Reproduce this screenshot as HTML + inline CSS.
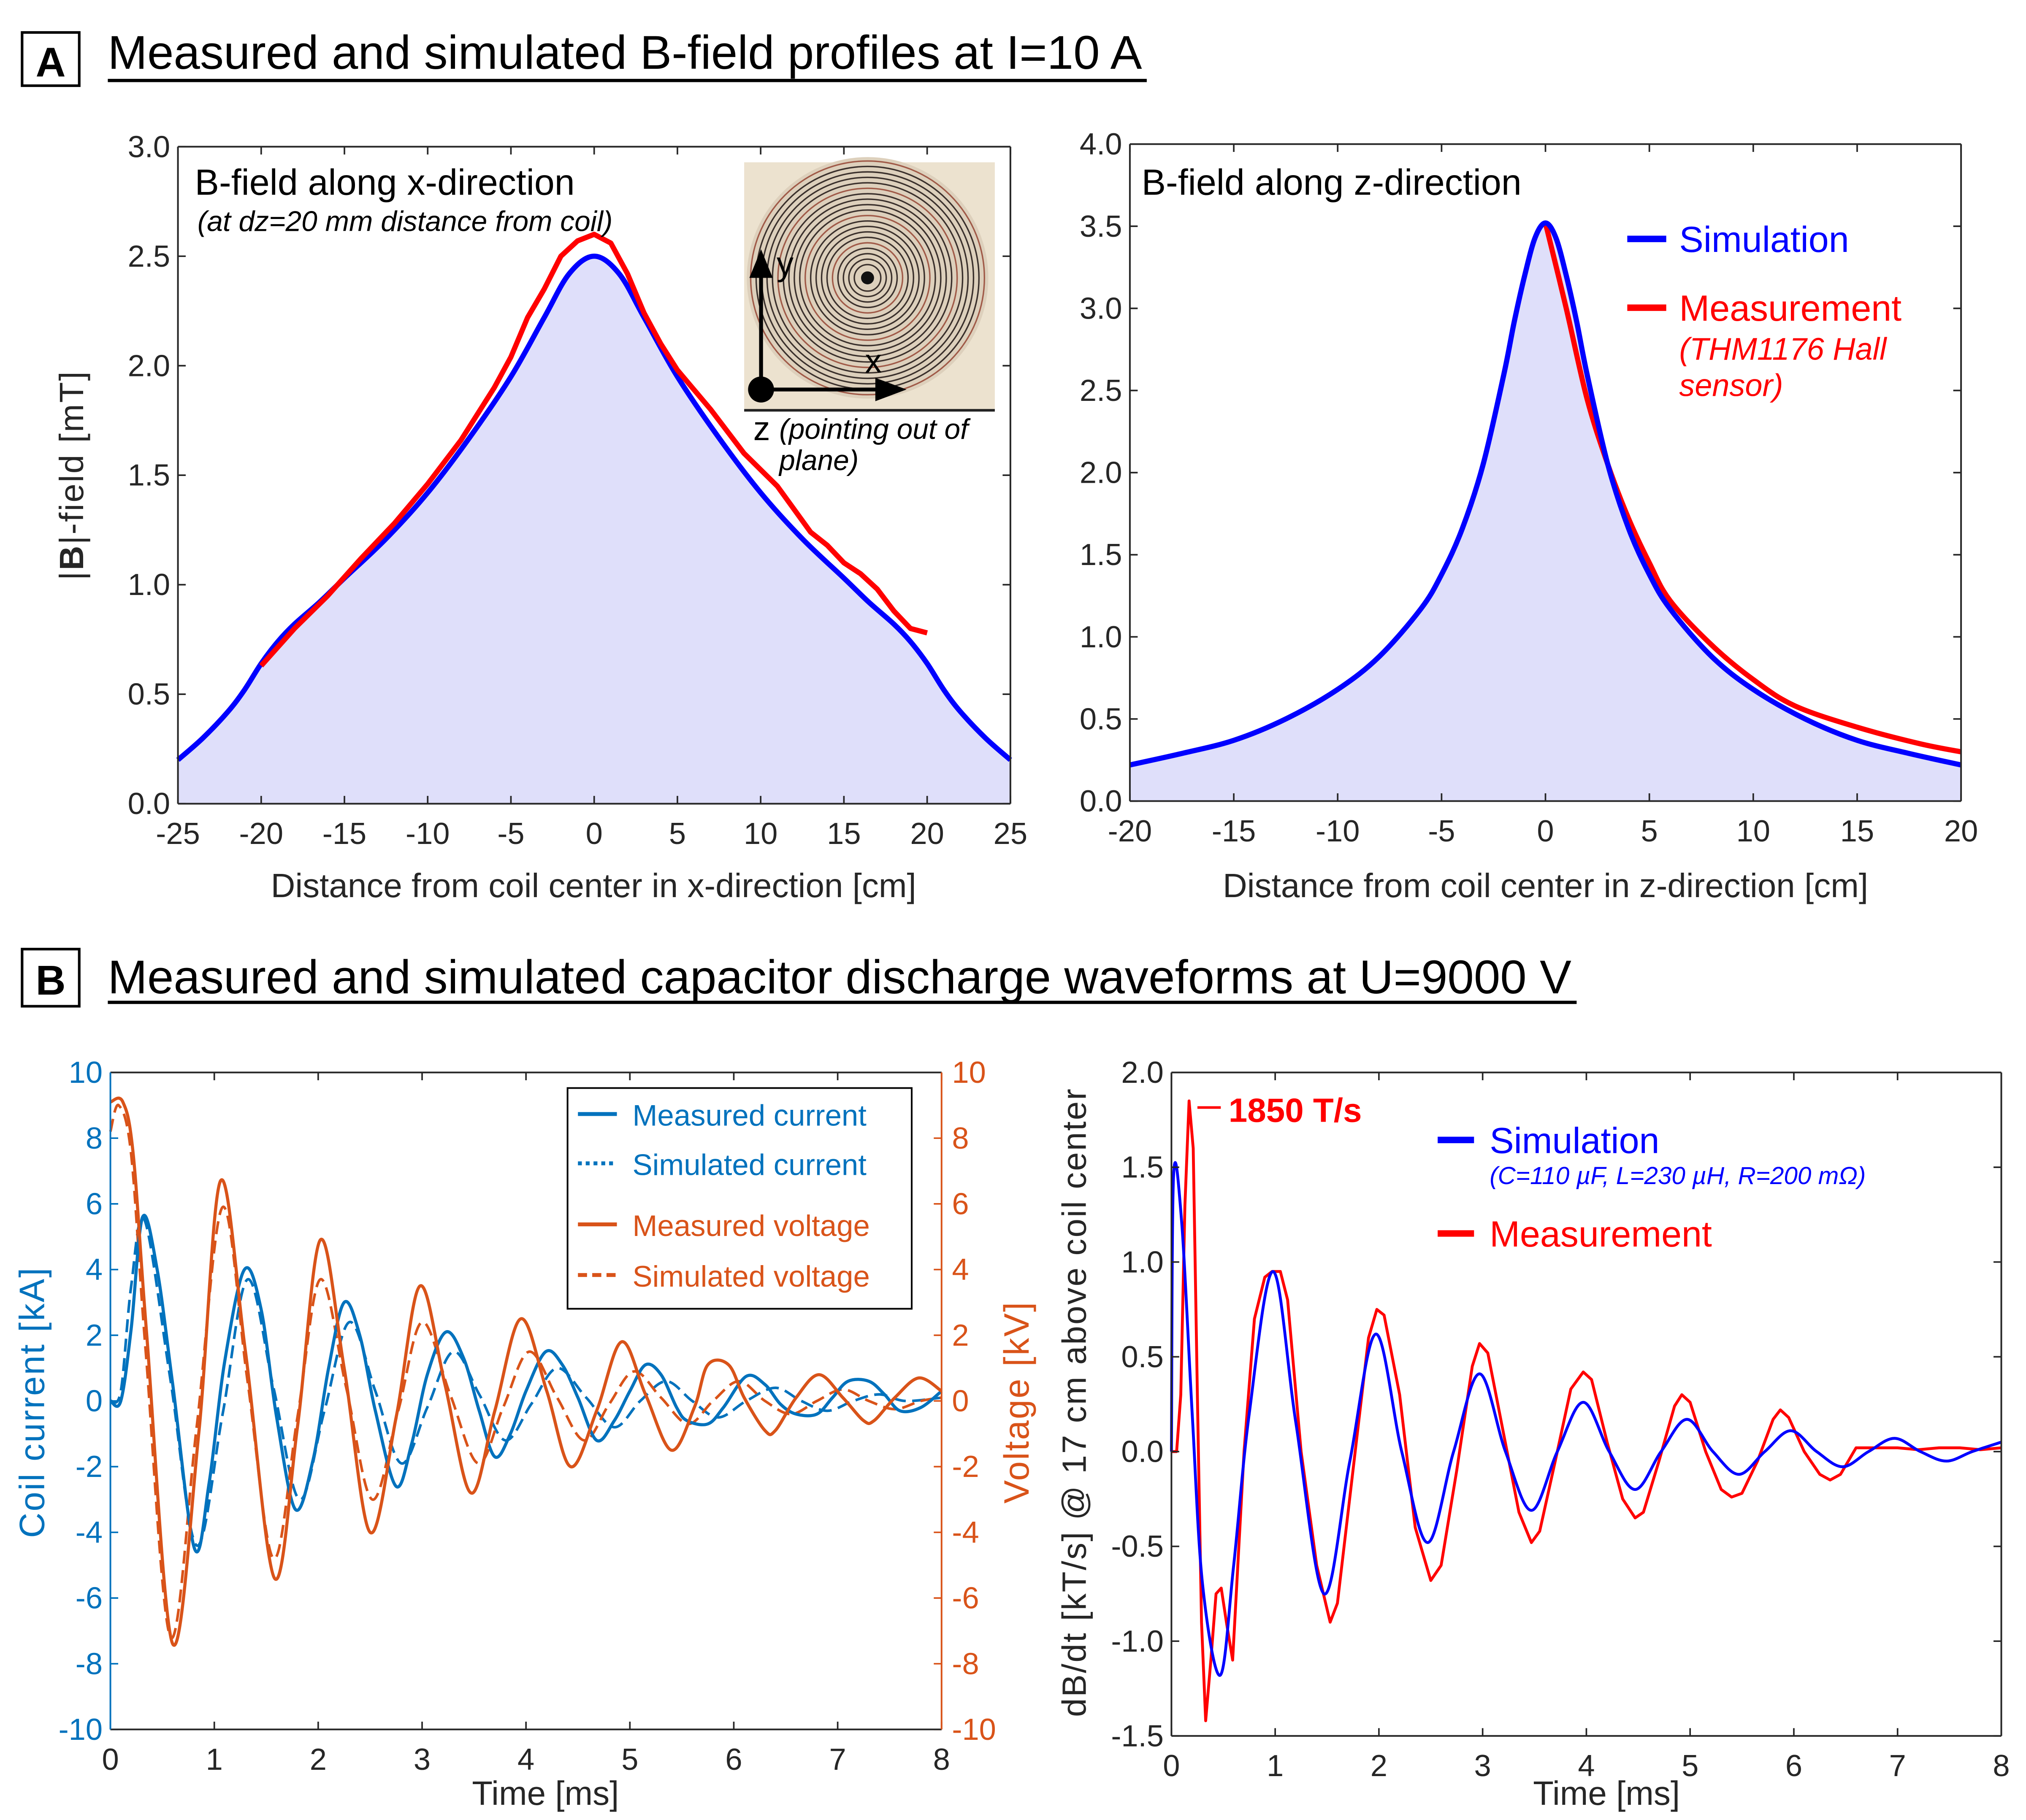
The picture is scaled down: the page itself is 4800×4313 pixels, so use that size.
<!DOCTYPE html>
<html><head><meta charset="utf-8">
<style>
html,body{margin:0;padding:0;background:#fff;}
svg{display:block;font-family:"Liberation Sans",Arial,sans-serif;}
</style></head>
<body>
<svg id="fig" xmlns="http://www.w3.org/2000/svg" width="4800" height="4313" viewBox="0 0 1560 1401.75">
<rect x="0" y="0" width="1560" height="1402" fill="#fff"/>
<g>
<rect x="17" y="25" width="44" height="41" fill="none" stroke="#000" stroke-width="2"/>
<text x="39" y="59" font-size="32" font-weight="bold" text-anchor="middle">A</text>
<text x="83" y="53" font-size="36.5">Measured and simulated B-field profiles at I=10 A</text>
<line x1="83" y1="62" x2="883" y2="62" stroke="#000" stroke-width="2.5"/>
</g>
<g>
<rect x="17" y="731" width="44" height="44" fill="none" stroke="#000" stroke-width="2"/>
<text x="39" y="766" font-size="32" font-weight="bold" text-anchor="middle">B</text>
<text x="83" y="765" font-size="36.5">Measured and simulated capacitor discharge waveforms at U=9000 V</text>
<line x1="83" y1="772" x2="1214" y2="772" stroke="#000" stroke-width="2.5"/>
</g>
<g id="plots"></g>
</svg>
<script>
// ---------- DATA ----------
const axTicksX = [-25,-20,-15,-10,-5,0,5,10,15,20,25];
const axTicksY = [0,0.5,1,1.5,2,2.5,3];
const axSimX = [-25,-23.5,-22,-21,-20,-19,-18,-16.5,-15,-12.5,-10,-7.5,-5,-3,-1.5,0,1.5,3,5,7.5,10,12.5,15,16.5,18,19,20,21,22,23.5,25];
const axSimY = [0.2,0.3,0.42,0.52,0.64,0.74,0.82,0.92,1.03,1.21,1.42,1.67,1.95,2.22,2.42,2.5,2.42,2.22,1.95,1.67,1.42,1.21,1.03,0.92,0.82,0.74,0.64,0.52,0.42,0.3,0.2];
const axMeasX = [-20,-18,-16,-14,-12,-10,-8,-6,-5,-4,-3,-2,-1,0,1,2,3,4,5,7,9,11,13,14,15,16,17,18,19,20];
const axMeasY = [0.63,0.8,0.95,1.12,1.28,1.46,1.66,1.9,2.04,2.22,2.35,2.5,2.57,2.6,2.56,2.42,2.24,2.1,1.98,1.8,1.6,1.45,1.24,1.18,1.1,1.05,0.98,0.88,0.8,0.78];

const azTicksX = [-20,-15,-10,-5,0,5,10,15,20];
const azTicksY = [0,0.5,1,1.5,2,2.5,3,3.5,4];
const azSimX = [-20,-17.5,-15,-12.5,-10,-8,-6,-5,-4,-3,-2,-1.5,-1,-0.5,0,0.5,1,1.5,2,3,4,5,6,8,10,12.5,15,17.5,20];
const azSimY = [0.22,0.29,0.37,0.5,0.68,0.88,1.17,1.38,1.66,2.05,2.6,2.92,3.2,3.43,3.52,3.43,3.2,2.92,2.6,2.05,1.66,1.38,1.17,0.88,0.68,0.5,0.37,0.29,0.22];
const azMeasX = [0,1,2,3,4,5,6,8,10,12,15,18,20];
const azMeasY = [3.52,3.0,2.45,2.05,1.72,1.45,1.22,0.95,0.74,0.58,0.45,0.35,0.3];

const bcTicksX = [0,1,2,3,4,5,6,7,8];
const bcTicksY = [-10,-8,-6,-4,-2,0,2,4,6,8,10];
const curMeasT = [0,0.1,0.2,0.31,0.45,0.6,0.81,0.95,1.1,1.29,1.45,1.6,1.78,1.95,2.1,2.25,2.4,2.55,2.75,2.9,3.05,3.23,3.4,3.55,3.7,3.85,4.0,4.19,4.35,4.5,4.68,4.85,5.0,5.15,5.3,5.45,5.55,5.75,5.9,6.12,6.3,6.45,6.6,6.8,6.95,7.1,7.3,7.45,7.6,7.8,8];
const curMeasV = [0,0,2.2,5.6,4,0.5,-4.5,-2.5,1.2,4.0,2.8,-0.5,-3.3,-1.8,1.0,3.0,2.0,-0.3,-2.6,-1.3,0.8,2.1,1.3,-0.3,-1.7,-1.0,0.3,1.5,1.1,0.1,-1.2,-0.6,0.3,1.1,0.8,-0.2,-0.6,-0.7,-0.2,0.75,0.5,-0.1,-0.4,-0.4,0.1,0.6,0.6,0.2,-0.3,-0.2,0.3];
const curSimT = [0,0.1,0.2,0.33,0.58,0.83,1.08,1.32,1.57,1.82,2.06,2.3,2.55,2.8,3.05,3.3,3.55,3.8,4.05,4.3,4.58,4.85,5.1,5.35,5.6,5.85,6.12,6.4,6.65,6.9,7.15,7.4,7.65,8];
const curSimV = [0,0.3,3.5,5.5,0.6,-4.4,-0.4,3.7,0.4,-3.0,-0.3,2.4,0.3,-1.9,-0.2,1.5,0.2,-1.2,-0.1,1.0,0.1,-0.8,0,0.6,0,-0.5,0,0.4,0,-0.3,0,0.2,0,0.1];
const voltMeasT = [0,0.12,0.22,0.35,0.6,0.85,1.06,1.3,1.58,1.8,2.02,2.25,2.5,2.75,2.98,3.22,3.47,3.7,3.95,4.2,4.43,4.68,4.92,5.15,5.4,5.62,5.75,5.95,6.1,6.3,6.4,6.6,6.82,7.05,7.25,7.35,7.55,7.78,8];
const voltMeasV = [9.1,9.1,7.5,2,-7.4,-1,6.7,1.5,-5.4,-0.8,4.9,1.0,-4.0,-0.5,3.5,0.5,-2.8,-0.3,2.5,0.3,-2.0,-0.3,1.8,0.2,-1.5,-0.2,1.1,1.1,0.1,-0.9,-0.9,0.1,0.8,0.1,-0.6,-0.6,0.1,0.7,0.3];
const voltSimT = [0,0.08,0.2,0.34,0.58,0.83,1.08,1.32,1.57,1.8,2.02,2.27,2.52,2.77,3.0,3.27,3.54,3.78,4.03,4.3,4.56,4.8,5.04,5.3,5.56,5.8,6.05,6.3,6.55,6.8,7.05,7.3,7.55,7.8,8];
const voltSimV = [8.2,9.0,7.5,1.5,-7.2,-0.8,5.9,0.6,-4.8,-0.5,3.7,0.4,-3.0,-0.3,2.4,0.2,-1.9,-0.2,1.5,0.1,-1.2,-0.1,0.9,0.1,-0.7,0,0.6,0,-0.4,0,0.35,0,-0.25,0,0.1];

const bdTicksX = [0,1,2,3,4,5,6,7,8];
const bdTicksY = [-1.5,-1,-0.5,0,0.5,1,1.5,2];
const dbMeasT = [0,0.05,0.09,0.13,0.17,0.21,0.25,0.29,0.33,0.38,0.43,0.48,0.53,0.59,0.64,0.7,0.8,0.9,0.97,1.05,1.12,1.25,1.4,1.53,1.6,1.75,1.9,1.98,2.05,2.2,2.35,2.5,2.6,2.75,2.9,2.97,3.05,3.2,3.35,3.47,3.55,3.7,3.85,3.97,4.05,4.2,4.35,4.47,4.55,4.7,4.85,4.92,5.0,5.15,5.3,5.4,5.5,5.65,5.8,5.87,5.95,6.1,6.25,6.35,6.45,6.6,6.8,7.0,7.2,7.4,7.6,7.8,8];
const dbMeasV = [0,0,0.3,1.3,1.85,1.6,0.3,-0.9,-1.42,-1.1,-0.75,-0.72,-0.9,-1.1,-0.6,0,0.7,0.92,0.95,0.95,0.8,0,-0.6,-0.9,-0.8,-0.1,0.6,0.75,0.72,0.3,-0.4,-0.68,-0.6,-0.1,0.45,0.57,0.52,0.1,-0.32,-0.48,-0.42,-0.05,0.33,0.42,0.38,0.05,-0.25,-0.35,-0.32,-0.05,0.24,0.3,0.26,0,-0.2,-0.24,-0.22,-0.05,0.17,0.22,0.18,0,-0.12,-0.15,-0.12,0.02,0.02,0.02,0.01,0.02,0.02,0.01,0.02];
const dbSimT = [0,0.02,0.1,0.2,0.3,0.47,0.6,0.75,0.98,1.2,1.47,1.72,1.97,2.22,2.47,2.72,2.97,3.22,3.47,3.72,3.97,4.22,4.47,4.72,4.97,5.22,5.47,5.72,5.97,6.22,6.47,6.72,6.97,7.22,7.47,7.72,8];
const dbSimV = [0,1.45,1.2,0.2,-0.7,-1.18,-0.6,0.2,0.95,0.15,-0.75,-0.05,0.62,0,-0.48,0,0.41,0,-0.31,0,0.26,0,-0.2,0,0.17,0,-0.12,0,0.11,0,-0.08,0,0.07,0,-0.05,0,0.05];

// ---------- HELPERS ----------
const NS="http://www.w3.org/2000/svg";
const root=document.getElementById('plots');
function mk(tag,attrs,parent){const e=document.createElementNS(NS,tag);for(const k in attrs)e.setAttribute(k,attrs[k]);(parent||root).appendChild(e);return e;}
function scale(d0,d1,r0,r1){return v=>r0+(v-d0)/(d1-d0)*(r1-r0);}
function linePath(xs,ys,sx,sy){return xs.map((x,i)=>(i?'L':'M')+sx(x).toFixed(2)+','+sy(ys[i]).toFixed(2)).join(' ');}
function smoothPath(xs,ys,sx,sy){
  const p=xs.map((x,i)=>[sx(x),sy(ys[i])]);
  let d='M'+p[0][0].toFixed(2)+','+p[0][1].toFixed(2);
  for(let i=0;i<p.length-1;i++){
    const p0=p[Math.max(0,i-1)],p1=p[i],p2=p[i+1],p3=p[Math.min(p.length-1,i+2)];
    const c1x=p1[0]+(p2[0]-p0[0])/6,c1y=p1[1]+(p2[1]-p0[1])/6;
    const c2x=p2[0]-(p3[0]-p1[0])/6,c2y=p2[1]-(p3[1]-p1[1])/6;
    d+=' C'+c1x.toFixed(2)+','+c1y.toFixed(2)+' '+c2x.toFixed(2)+','+c2y.toFixed(2)+' '+p2[0].toFixed(2)+','+p2[1].toFixed(2);
  }
  return d;
}
function txt(x,y,s,size,attrs,name){const t=mk('text',Object.assign({x:x,y:y,'font-size':size},attrs||{}));t.textContent=s;


return t;}
function fmt1(v){return v.toFixed(1);}

function axesBox(g,L,T,R,B,sx,sy,tx,ty,opts){
  opts=opts||{};
  const tl=6;
  tx.forEach(v=>{const x=sx(v);
    const t1=mk('line',{x1:x,y1:B,x2:x,y2:B-tl,stroke:'#262626','stroke-width':1.2},g);
    
    
    mk('line',{x1:x,y1:T,x2:x,y2:T+tl,stroke:'#262626','stroke-width':1.2},g);
    txt(x,B+31,opts.fx?opts.fx(v):String(v),23.5,{'text-anchor':'middle',fill:'#262626'},'x-tick-label');
  });
  ty.forEach(v=>{const y=sy(v);
    const t1=mk('line',{x1:L,y1:y,x2:L+tl,y2:y,stroke:opts.lc||'#262626','stroke-width':1.2},g);
    
    
    mk('line',{x1:R,y1:y,x2:R-tl,y2:y,stroke:opts.rc||'#262626','stroke-width':1.2},g);
    if(!opts.noYLabels) txt(L-6,y+8,opts.fy?opts.fy(v):String(v),23.5,{'text-anchor':'end',fill:opts.lc||'#262626'},'y-tick-label');
  });
  mk('line',{x1:L,y1:T,x2:R,y2:T,stroke:'#262626','stroke-width':1.3},g);
  mk('line',{x1:L,y1:B,x2:R,y2:B,stroke:'#262626','stroke-width':1.3},g);
  mk('line',{x1:L,y1:T,x2:L,y2:B,stroke:opts.lc||'#262626','stroke-width':1.3},g);
  mk('line',{x1:R,y1:T,x2:R,y2:B,stroke:opts.rc||'#262626','stroke-width':1.3},g);
}

// ---------- PLOT A-LEFT ----------
(function(){
  const L=137,R=778,T=113,B=619;
  const g=mk('g',{});
  
  
  const sx=scale(-25,25,L,R), sy=scale(0,3,B,T);
  const fill=mk('path',{d:smoothPath(axSimX,axSimY,sx,sy)+' L'+R+','+B+' L'+L+','+B+' Z',fill:'#dfdffa',stroke:'none'},g);
  
  
  const s=mk('path',{d:smoothPath(axSimX,axSimY,sx,sy),fill:'none',stroke:'#0000ff','stroke-width':4},g);
  
  
  const m=mk('path',{d:linePath(axMeasX,axMeasY,sx,sy),fill:'none',stroke:'#ff0000','stroke-width':4,'stroke-linejoin':'round'},g);
  
  
  axesBox(g,L,T,R,B,sx,sy,axTicksX,axTicksY,{fy:fmt1});
  txt(150,150,'B-field along x-direction',28,{},'plot-title');
  txt(152,178,'(at dz=20 mm distance from coil)',22,{'font-style':'italic'},'plot-subtitle');
  txt(457,691,'Distance from coil center in x-direction [cm]',26,{'text-anchor':'middle',fill:'#262626'},'x-axis-title');
  const yt=txt(0,0,'',26,{'text-anchor':'middle',transform:'translate(64,366) rotate(-90)',fill:'#262626','letter-spacing':'1'},'y-axis-title');
  yt.innerHTML='|<tspan font-weight="bold">B</tspan>|-field [mT]';
  const ig=mk('g',{},g);
  
  
  mk('rect',{x:573,y:125,width:193,height:192,fill:'#ece2cf'},ig);
  mk('circle',{cx:668,cy:214,r:93,fill:'#ddd0bc'},ig);
  for(let r=90;r>6;r-=4.2){mk('circle',{cx:668,cy:214,r:r,fill:'none',stroke:(Math.round(r)%3===0)?'#a05a48':'#3a302c','stroke-width':1.1},ig);}
  mk('circle',{cx:668,cy:214,r:5,fill:'#111'},ig);
  mk('line',{x1:573,y1:316,x2:766,y2:316,stroke:'#222','stroke-width':2},ig);
  mk('line',{x1:586,y1:300,x2:586,y2:210,stroke:'#000','stroke-width':3},ig);
  mk('polygon',{points:'577,214 595,214 586,192',fill:'#000'},ig);
  mk('line',{x1:586,y1:300,x2:676,y2:300,stroke:'#000','stroke-width':3},ig);
  mk('polygon',{points:'674,291 674,309 698,300',fill:'#000'},ig);
  mk('circle',{cx:586,cy:300,r:10,fill:'#000'},ig);
  txt(598,212,'y',26,{},'inset-y-label');
  txt(666,287,'x',26,{},'inset-x-label');
  txt(580,339,'z',26,{},'inset-z-label');
  txt(600,338,'(pointing out of',22,{'font-style':'italic'},'inset-z-note');
  txt(600,362,'plane)',22,{'font-style':'italic'},'inset-z-note2');
})();

// ---------- PLOT A-RIGHT ----------
(function(){
  const L=870,R=1510,T=111,B=617;
  const g=mk('g',{});
  
  
  const sx=scale(-20,20,L,R), sy=scale(0,4,B,T);
  const fill=mk('path',{d:smoothPath(azSimX,azSimY,sx,sy)+' L'+R+','+B+' L'+L+','+B+' Z',fill:'#dfdffa',stroke:'none'},g);
  
  
  const m=mk('path',{d:smoothPath(azMeasX,azMeasY,sx,sy),fill:'none',stroke:'#ff0000','stroke-width':4},g);
  
  
  const s=mk('path',{d:smoothPath(azSimX,azSimY,sx,sy),fill:'none',stroke:'#0000ff','stroke-width':4},g);
  
  
  axesBox(g,L,T,R,B,sx,sy,azTicksX,azTicksY,{fy:fmt1});
  txt(879,150,'B-field along z-direction',28,{},'plot-title');
  txt(1190,691,'Distance from coil center in z-direction [cm]',26,{'text-anchor':'middle',fill:'#262626'},'x-axis-title');
  const l1=mk('line',{x1:1253,y1:184,x2:1283,y2:184,stroke:'#0000ff','stroke-width':5},g);
  
  
  txt(1293,194,'Simulation',28,{fill:'#0000ff'},'legend-simulation');
  const l2=mk('line',{x1:1253,y1:237,x2:1283,y2:237,stroke:'#ff0000','stroke-width':5},g);
  
  
  txt(1293,247,'Measurement',28,{fill:'#ff0000'},'legend-measurement');
  txt(1293,277,'(THM1176 Hall',24,{fill:'#ff0000','font-style':'italic'},'legend-measurement-note');
  txt(1293,305,'sensor)',24,{fill:'#ff0000','font-style':'italic'},'legend-measurement-note2');
})();

// ---------- PLOT B-LEFT ----------
(function(){
  const L=85,R=725,T=826,B=1332;
  const blue='#0072bd',orange='#d95319';
  const g=mk('g',{});
  
  
  const sx=scale(0,8,L,R), sy=scale(-10,10,B,T);
  const p1=mk('path',{d:smoothPath(curSimT,curSimV,sx,sy),fill:'none',stroke:blue,'stroke-width':2,'stroke-dasharray':'10,5'},g);
  
  
  const p2=mk('path',{d:smoothPath(voltSimT,voltSimV,sx,sy),fill:'none',stroke:orange,'stroke-width':2,'stroke-dasharray':'10,5'},g);
  
  
  const p3=mk('path',{d:smoothPath(curMeasT,curMeasV,sx,sy),fill:'none',stroke:blue,'stroke-width':2.4},g);
  
  
  const p4=mk('path',{d:smoothPath(voltMeasT,voltMeasV,sx,sy),fill:'none',stroke:orange,'stroke-width':2.4},g);
  
  
  axesBox(g,L,T,R,B,sx,sy,bcTicksX,bcTicksY,{lc:blue,rc:orange});
  bcTicksY.forEach(v=>{txt(R+8,sy(v)+8,String(v),23.5,{fill:orange},'right-y-tick-label');});
  txt(420,1390,'Time [ms]',26,{'text-anchor':'middle',fill:'#262626'},'x-axis-title');
  txt(0,0,'Coil current [kA]',27,{'text-anchor':'middle',fill:blue,transform:'translate(34,1080) rotate(-90)','letter-spacing':'1'},'left-y-axis-title');
  txt(0,0,'Voltage [kV]',27,{'text-anchor':'middle',fill:orange,transform:'translate(792,1080) rotate(-90)','letter-spacing':'1'},'right-y-axis-title');
  const lg=mk('g',{},g);
  
  
  mk('rect',{x:437,y:838,width:265,height:170,fill:'#fff',stroke:'#000','stroke-width':1.3},lg);
  mk('line',{x1:445,y1:858,x2:475,y2:858,stroke:blue,'stroke-width':3},lg);
  txt(487,867,'Measured current',23,{fill:blue},'legend-measured-current');
  mk('line',{x1:445,y1:896,x2:475,y2:896,stroke:blue,'stroke-width':3,'stroke-dasharray':'3,3'},lg);
  txt(487,905,'Simulated current',23,{fill:blue},'legend-simulated-current');
  mk('line',{x1:445,y1:943,x2:475,y2:943,stroke:orange,'stroke-width':3},lg);
  txt(487,952,'Measured voltage',23,{fill:orange},'legend-measured-voltage');
  mk('line',{x1:445,y1:982,x2:475,y2:982,stroke:orange,'stroke-width':3,'stroke-dasharray':'7,4'},lg);
  txt(487,991,'Simulated voltage',23,{fill:orange},'legend-simulated-voltage');
})();

// ---------- PLOT B-RIGHT ----------
(function(){
  const L=902,R=1541,T=826,B=1337;
  const g=mk('g',{});
  
  
  const sx=scale(0,8,L,R), sy=scale(-1.5,2,B,T);
  const m=mk('path',{d:linePath(dbMeasT,dbMeasV,sx,sy),fill:'none',stroke:'#ff0000','stroke-width':2.2,'stroke-linejoin':'round'},g);
  
  
  const s=mk('path',{d:smoothPath(dbSimT,dbSimV,sx,sy),fill:'none',stroke:'#0000ff','stroke-width':2.2},g);
  
  
  axesBox(g,L,T,R,B,sx,sy,bdTicksX,bdTicksY,{fy:fmt1});
  txt(1237,1390,'Time [ms]',26,{'text-anchor':'middle',fill:'#262626'},'x-axis-title');
  txt(0,0,'dB/dt [kT/s] @ 17 cm above coil center',26,{'text-anchor':'middle',fill:'#262626',transform:'translate(836,1080) rotate(-90)','letter-spacing':'1'},'y-axis-title');
  mk('line',{x1:922,y1:853,x2:940,y2:853,stroke:'#ff0000','stroke-width':2},g);
  txt(946,864,'1850 T/s',26,{fill:'#ff0000','font-weight':'bold'},'peak-annotation');
  const l1=mk('line',{x1:1107,y1:878,x2:1135,y2:878,stroke:'#0000ff','stroke-width':5},g);
  
  
  txt(1147,888,'Simulation',28,{fill:'#0000ff'},'legend-simulation');
  txt(1147,912,'(C=110 µF, L=230 µH, R=200 mΩ)',19,{fill:'#0000ff','font-style':'italic'},'legend-simulation-params');
  const l2=mk('line',{x1:1107,y1:950,x2:1135,y2:950,stroke:'#ff0000','stroke-width':5},g);
  
  
  txt(1147,960,'Measurement',28,{fill:'#ff0000'},'legend-measurement');
})();
</script>
</body></html>
